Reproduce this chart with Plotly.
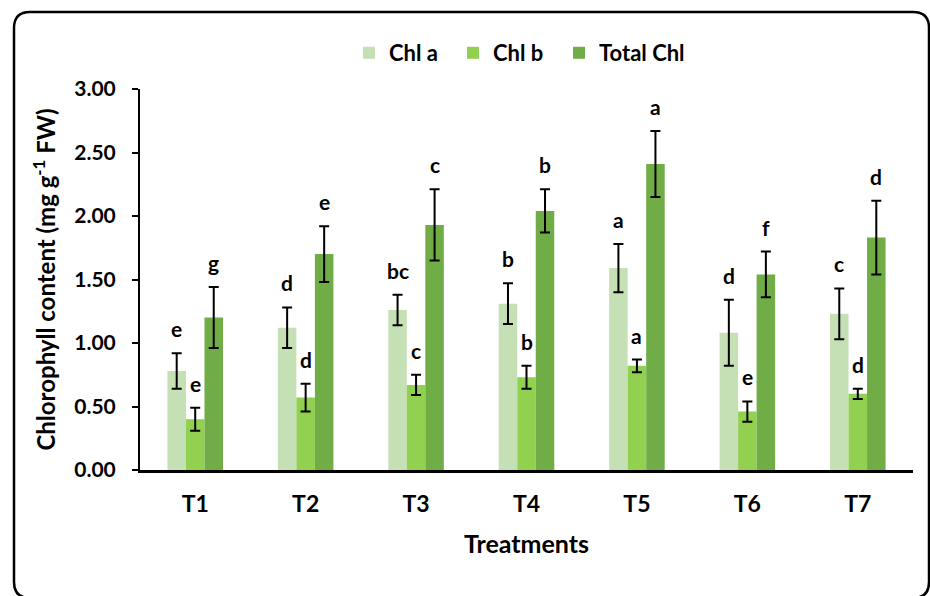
import plotly.graph_objects as go

treatments = ["T1", "T2", "T3", "T4", "T5", "T6", "T7"]
chl_a = [0.78, 1.12, 1.26, 1.31, 1.59, 1.08, 1.23]
chl_a_err = [0.14, 0.16, 0.12, 0.16, 0.19, 0.26, 0.20]
chl_b = [0.40, 0.57, 0.67, 0.73, 0.82, 0.46, 0.60]
chl_b_err = [0.09, 0.11, 0.08, 0.09, 0.05, 0.08, 0.04]
total_chl = [1.20, 1.70, 1.93, 2.04, 2.41, 1.54, 1.83]
total_chl_err = [0.24, 0.22, 0.28, 0.17, 0.26, 0.18, 0.29]
letters_a = ["e", "d", "bc", "b", "a", "d", "c"]
letters_b = ["e", "d", "c", "b", "a", "e", "d"]
letters_t = ["g", "e", "c", "b", "a", "f", "d"]
y_ticks = [0.0, 0.5, 1.0, 1.5, 2.0, 2.5, 3.0]

series = [
    ("Chl a", chl_a, chl_a_err, letters_a, "#C5E0B4"),
    ("Chl b", chl_b, chl_b_err, letters_b, "#92D050"),
    ("Total Chl", total_chl, total_chl_err, letters_t, "#70AD47"),
]

W, H = 930, 596
L, R, T, B = 140, 17, 89, 126
FONT = "Lato"
bargap = 0.497

# pixel -> paper helpers (for decorations only)
def px(xp):
    return (xp - L) / (W - L - R)

def py(yp):
    return (H - B - yp) / (H - T - B)

legend_ids = ["legend", "legend2", "legend3"]
legend_text_left = [389, 493, 599]

fig = go.Figure()
for k, (name, vals, errs, letters, color) in enumerate(series):
    fig.add_trace(go.Bar(
        name=name, x=treatments, y=vals, legend=legend_ids[k], showlegend=True,
        marker=dict(color=color, line=dict(width=0)),
        error_y=dict(type="data", array=errs, visible=True, color="black",
                     thickness=2, width=5),
    ))

# significance letters
w = (1 - bargap) / 3
anns = []
for j, (name, vals, errs, letters, color) in enumerate(series):
    for i, t in enumerate(treatments):
        anns.append(dict(
            x=i + (j - 1) * w, xref="x", y=vals[i] + errs[i], yref="y",
            text=letters[i], showarrow=False, yanchor="bottom", xanchor="center",
            yshift=10, font=dict(family=FONT, size=21, color="black", weight="bold"),
        ))

x0, y0, x1, y1, r = 14, 12, 929, 598, 16
path = (f"M {px(x0)},{py(y0 + r)} Q {px(x0)},{py(y0)} {px(x0 + r)},{py(y0)} "
        f"L {px(x1 - r)},{py(y0)} Q {px(x1)},{py(y0)} {px(x1)},{py(y0 + r)} "
        f"L {px(x1)},{py(y1 - r)} Q {px(x1)},{py(y1)} {px(x1 - r)},{py(y1)} "
        f"L {px(x0 + r)},{py(y1)} Q {px(x0)},{py(y1)} {px(x0)},{py(y1 - r)} Z")

legend_layout = {}
for lid, tl in zip(legend_ids, legend_text_left):
    legend_layout[lid] = dict(
        orientation="h", x=px(tl - 40), xanchor="left", y=py(53), yanchor="middle",
        font=dict(size=22, family=FONT, weight="bold"), itemwidth=30,
        bgcolor="rgba(0,0,0,0)", visible=True,
    )

fig.update_layout(
    width=W, height=H,
    margin=dict(l=L, r=R, t=T, b=B, autoexpand=False),
    plot_bgcolor="white", paper_bgcolor="white",
    barmode="group", bargap=bargap, bargroupgap=0,
    showlegend=True,
    font=dict(family=FONT, color="black", weight="bold"),
    annotations=anns,
    shapes=[dict(type="path", path=path, xref="paper", yref="paper",
                 line=dict(color="black", width=2.5), layer="above")],
    **legend_layout,
)
fig.update_xaxes(
    showline=True, linecolor="black", linewidth=2.5, ticks="",
    tickfont=dict(size=23, family=FONT, weight="bold"), ticklabelstandoff=12,
    title=dict(text="Treatments", font=dict(size=25, family=FONT, weight="bold"), standoff=20),
    showgrid=False,
)
fig.update_yaxes(
    range=[0, 3.0], tickvals=y_ticks, tickformat=".2f",
    showline=True, linecolor="black", linewidth=2, ticks="outside", ticklen=6,
    tickwidth=2, tickcolor="black",
    tickfont=dict(size=21, family=FONT, weight="bold"), ticklabelstandoff=12,
    title=dict(text="Chlorophyll content (mg g<sup>-1</sup> FW)",
               font=dict(size=24, family=FONT, weight="bold"), standoff=12),
    showgrid=False, zeroline=False,
)
fig.write_html("out.html", config={"displayModeBar": False},
               post_script="document.body.style.margin='0';")
